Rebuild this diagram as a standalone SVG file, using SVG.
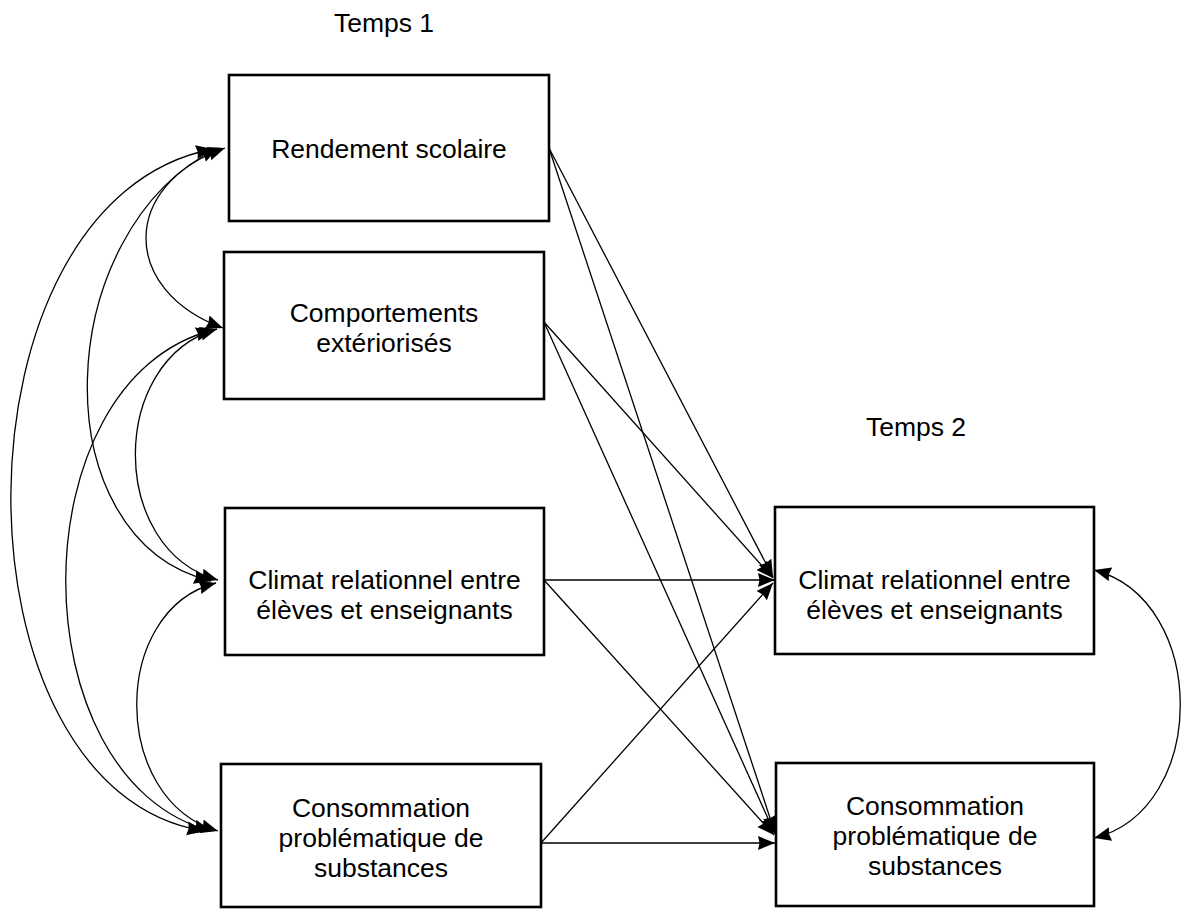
<svg xmlns="http://www.w3.org/2000/svg" width="1183" height="911" viewBox="0 0 1183 911">
<style>
.box{fill:#fff;stroke:#000;stroke-width:2.6}
.lbl{font-family:"Liberation Sans",Arial,sans-serif;font-size:26.5px;fill:#000;text-anchor:middle}
.c{fill:none;stroke:#000;stroke-width:1.3}
.one{marker-end:url(#ah)}
.two{marker-start:url(#ah);marker-end:url(#ah)}
</style>
<defs>
<marker id="ah" markerUnits="userSpaceOnUse" markerWidth="18" markerHeight="15" refX="17" refY="7" orient="auto-start-reverse" viewBox="0 0 18 15">
<path d="M0,0 L17,7 L0,14 L1.5,7 z" fill="#000"/>
</marker>
</defs>
<rect width="1183" height="911" fill="#fff"/>
<text class="lbl" x="384" y="32">Temps 1</text>
<text class="lbl" x="916" y="436">Temps 2</text>
<g id="connectors">
<path class="c two" d="M225,148 C120,185 120,290 223,328"/>
<path class="c two" d="M218,148 C50,230 40,540 211,581"/>
<path class="c two" d="M213,149 C-55,200 -55,790 204,831"/>
<path class="c two" d="M217,329 C108,360 108,550 218,580"/>
<path class="c two" d="M213,330 C17,380 17,780 211,831"/>
<path class="c two" d="M216,583 C110,610 110,800 218,831"/>
<path class="c two" d="M1094,570 C1209,600 1209,810 1094,838"/>
<line class="c one" x1="549" y1="148" x2="773" y2="577"/>
<line class="c one" x1="549" y1="148" x2="775" y2="833"/>
<line class="c one" x1="544" y1="322" x2="773" y2="578"/>
<line class="c one" x1="544" y1="322" x2="775" y2="834"/>
<line class="c one" x1="544" y1="580" x2="775" y2="580"/>
<line class="c one" x1="544" y1="580" x2="774" y2="835"/>
<line class="c one" x1="541" y1="843" x2="773" y2="583"/>
<line class="c one" x1="541" y1="843" x2="775" y2="843"/>
</g>
<g id="n1"><rect class="box" x="229" y="75" width="320" height="146"/><text class="lbl" x="389" y="158">Rendement scolaire</text></g>
<g id="n2"><rect class="box" x="224" y="252" width="320" height="147"/><text class="lbl" x="384" y="322">Comportements</text><text class="lbl" x="384" y="352">extériorisés</text></g>
<g id="n3"><rect class="box" x="225" y="508" width="319" height="147"/><text class="lbl" x="384.5" y="589">Climat relationnel entre</text><text class="lbl" x="384.5" y="619">élèves et enseignants</text></g>
<g id="n4"><rect class="box" x="221" y="764" width="320" height="143"/><text class="lbl" x="381" y="817">Consommation</text><text class="lbl" x="381" y="847">problématique de</text><text class="lbl" x="381" y="877">substances</text></g>
<g id="n5"><rect class="box" x="775" y="507" width="319" height="147"/><text class="lbl" x="934.5" y="589">Climat relationnel entre</text><text class="lbl" x="934.5" y="619">élèves et enseignants</text></g>
<g id="n6"><rect class="box" x="776" y="763" width="318" height="143"/><text class="lbl" x="935" y="815">Consommation</text><text class="lbl" x="935" y="845">problématique de</text><text class="lbl" x="935" y="875">substances</text></g>
</svg>
